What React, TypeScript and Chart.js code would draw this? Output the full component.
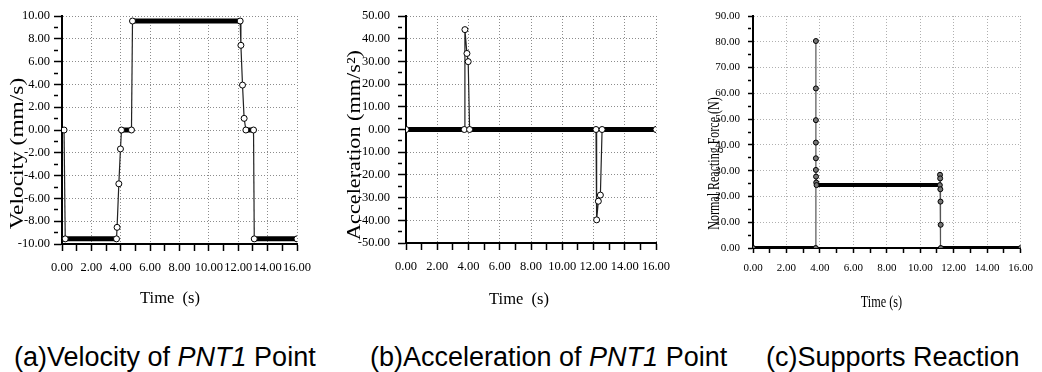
import React, { useEffect, useRef } from "react";
import { Chart, registerables } from "chart.js";

Chart.register(...registerables);

// ---------- data ----------
// (a) Velocity of PNT1 point
const velocityTime = [0, 0.14, 0.22, 3.71, 3.75, 3.87, 3.98, 4.05, 4.73, 4.8, 12.13, 12.18, 12.29, 12.4, 12.52, 13.04, 13.09, 16.0];
const velocityValue = [0, 0, -9.55, -9.55, -8.54, -4.72, -1.66, 0, 0, 9.56, 9.56, 7.43, 3.94, 1.02, 0, 0, -9.55, -9.55];

// (b) Acceleration of PNT1 point
const accelerationTime = [0, 3.73, 3.77, 3.9, 3.98, 4.07, 12.16, 12.2, 12.31, 12.44, 12.55, 16.0];
const accelerationValue = [0, 0, 44.0, 33.5, 29.9, 0, 0, -39.8, -31.6, -28.9, 0, 0];

// (c) Supports reaction
const forceTime = [0, 3.75, 3.76, 3.76, 3.76, 3.76, 3.76, 3.76, 3.77, 3.78, 3.8, 11.17, 11.18, 11.19, 11.2, 11.21, 11.22, 11.23, 16.0];
const forceValue = [0, 0, 80.3, 61.9, 49.6, 40.9, 34.8, 30.3, 27.7, 25.4, 24.4, 24.4, 28.4, 27.0, 22.8, 18.0, 9.0, 0, 0];

// axis ranges / tick steps
const timeRange = [0, 16];
const timeMinorStep = 1;
const timeMajorStep = 2;
const velocityRange = [-10, 10];
const velocitySteps = [1, 2];
const accelerationRange = [-50, 50];
const accelerationSteps = [5, 10];
const forceRange = [0, 90];
const forceSteps = [5, 10];

const axisTitles = {
  velocity: "Velocity (mm/s)",
  acceleration: "Acceleration (mm/s²)",
  force: "Normal Reacting Force (N)",
  timeWide: "Time  (s)",
  time: "Time (s)",
};

const captions = ["(a)Velocity of ", "(b)Acceleration of ", "(c)Supports Reaction"];

// ---------- styling ----------
const SERIF = "'Liberation Serif', 'Times New Roman', serif";

function isMult(v: number, m: number) {
  return Math.abs(v / m - Math.round(v / m)) < 1e-6;
}

type TitleSpec = { text: string; x: number; y: number; size: number; stretch: number; vertical: boolean };

type Panel = {
  left: number;
  width: number;
  height: number;
  padding: { top: number; right: number; bottom: number; left: number };
  times: number[];
  values: number[];
  yRange: number[];
  ySteps: number[];
  yAxisWidth: number;
  yTickLen: number;
  yMinorLen: number;
  yTickPad: number;
  xAxisHeight: number;
  xTickLen: number;
  xTickPad: number;
  tickFont: number;
  gridColor: string;
  lineColor: string;
  lineWidth: number;
  bandWidth: number;
  pointRadius: number;
  pointFill: string;
  titles: TitleSpec[];
};

function buildConfig(p: Panel): any {
  const data = p.times.map((t, i) => ({ x: t, y: p.values[i] }));
  const flat = (c: any) => c.p0.parsed.y === c.p1.parsed.y;

  const titlePlugin = {
    id: "panelTitles",
    afterDraw(chart: any) {
      const ctx = chart.ctx as CanvasRenderingContext2D;
      for (const t of p.titles) {
        ctx.save();
        ctx.translate(t.x, t.y);
        if (t.vertical) ctx.rotate(-Math.PI / 2);
        ctx.scale(t.stretch, 1);
        ctx.font = `${t.size}px ${SERIF}`;
        ctx.textAlign = "center";
        ctx.textBaseline = "middle";
        ctx.fillStyle = "#000";
        ctx.fillText(t.text, 0, 0);
        ctx.restore();
      }
    },
  };

  return {
    type: "line",
    data: {
      datasets: [
        {
          data,
          borderColor: p.lineColor,
          borderWidth: p.lineWidth,
          pointRadius: p.pointRadius,
          pointHoverRadius: p.pointRadius,
          pointBackgroundColor: p.pointFill,
          pointBorderColor: "#000",
          pointBorderWidth: 1,
          tension: 0,
          fill: false,
          segment: {
            borderWidth: (c: any) => (flat(c) ? p.bandWidth : p.lineWidth),
            borderColor: (c: any) => (flat(c) ? "#000" : p.lineColor),
          },
        },
      ],
    },
    plugins: [titlePlugin],
    options: {
      animation: false,
      responsive: false,
      maintainAspectRatio: false,
      layout: { padding: p.padding },
      plugins: { legend: { display: false }, tooltip: { enabled: false } },
      scales: {
        x: {
          type: "linear",
          min: timeRange[0],
          max: timeRange[1],
          afterFit: (s: any) => {
            s.height = p.xAxisHeight;
          },
          ticks: {
            stepSize: timeMinorStep,
            autoSkip: false,
            maxRotation: 0,
            padding: p.xTickPad,
            color: "#000",
            font: { family: SERIF, size: p.tickFont },
            callback: (v: any) => (isMult(Number(v), timeMajorStep) ? Number(v).toFixed(2) : ""),
          },
          grid: {
            color: (c: any) => (c.tick && isMult(c.tick.value, timeMajorStep) ? p.gridColor : "rgba(0,0,0,0)"),
            lineWidth: 1,
            tickColor: "#000",
            tickLength: p.xTickLen,
            tickWidth: 1.5,
          },
          border: { display: true, color: "#000", width: 2, dash: [1, 2] },
          title: { display: false },
        },
        y: {
          type: "linear",
          min: p.yRange[0],
          max: p.yRange[1],
          afterFit: (s: any) => {
            s.width = p.yAxisWidth;
          },
          ticks: {
            stepSize: p.ySteps[0],
            autoSkip: false,
            padding: p.yTickPad,
            color: "#000",
            font: { family: SERIF, size: p.tickFont },
            callback: (v: any) => (isMult(Number(v), p.ySteps[1]) ? Number(v).toFixed(2) : ""),
          },
          grid: {
            color: (c: any) => (c.tick && isMult(c.tick.value, p.ySteps[1]) ? p.gridColor : "rgba(0,0,0,0)"),
            lineWidth: 1,
            tickColor: "#000",
            tickLength: p.yTickLen,
            tickWidth: 1.5,
            tickBorderDash: (c: any) => (c.tick && !isMult(c.tick.value, p.ySteps[1]) ? [p.yMinorLen, 60] : []),
          },
          border: { display: true, color: "#000", width: 2, dash: [1, 2] },
          title: { display: false },
        },
      },
    },
  };
}

const panels: Panel[] = [
  {
    left: 0, width: 345, height: 320,
    padding: { top: 16, right: 48, bottom: 10, left: 0 },
    times: velocityTime, values: velocityValue,
    yRange: velocityRange, ySteps: velocitySteps,
    yAxisWidth: 62, yTickLen: 8, yMinorLen: 4, yTickPad: 4,
    xAxisHeight: 66, xTickLen: 7, xTickPad: 9,
    tickFont: 12.5, gridColor: "#8c8c8c", lineColor: "#222", lineWidth: 1.2, bandWidth: 5,
    pointRadius: 3, pointFill: "#fff",
    titles: [
      { text: axisTitles.velocity, x: 17.5, y: 153.5, size: 19.5, stretch: 1.2, vertical: true },
      { text: axisTitles.timeWide, x: 170, y: 299, size: 16.5, stretch: 1, vertical: false },
    ],
  },
  {
    left: 342, width: 348, height: 320,
    padding: { top: 16, right: 34, bottom: 11, left: 0 },
    times: accelerationTime, values: accelerationValue,
    yRange: accelerationRange, ySteps: accelerationSteps,
    yAxisWidth: 64, yTickLen: 8, yMinorLen: 4, yTickPad: 8,
    xAxisHeight: 66, xTickLen: 7, xTickPad: 9,
    tickFont: 12.5, gridColor: "#8c8c8c", lineColor: "#222", lineWidth: 1.2, bandWidth: 5,
    pointRadius: 3, pointFill: "#fff",
    titles: [
      { text: axisTitles.acceleration, x: 13, y: 145, size: 19.5, stretch: 1.14, vertical: true },
      { text: axisTitles.timeWide, x: 177, y: 300, size: 16.5, stretch: 1, vertical: false },
    ],
  },
  {
    left: 690, width: 352, height: 320,
    padding: { top: 16, right: 12, bottom: 8, left: 0 },
    times: forceTime, values: forceValue,
    yRange: forceRange, ySteps: forceSteps,
    yAxisWidth: 63, yTickLen: 5, yMinorLen: 3, yTickPad: 8,
    xAxisHeight: 64, xTickLen: 5, xTickPad: 9,
    tickFont: 11, gridColor: "#b0b0b0", lineColor: "#555", lineWidth: 1.2, bandWidth: 4,
    pointRadius: 2.5, pointFill: "#777",
    titles: [
      { text: axisTitles.force, x: 24.5, y: 163.5, size: 16, stretch: 0.75, vertical: true },
      { text: axisTitles.time, x: 191.5, y: 303, size: 17, stretch: 0.72, vertical: false },
    ],
  },
];

function ChartPanel({ p }: { p: Panel }) {
  const ref = useRef<HTMLCanvasElement | null>(null);
  useEffect(() => {
    if (!ref.current) return;
    const chart = new Chart(ref.current, buildConfig(p));
    return () => chart.destroy();
  }, [p]);
  return (
    <canvas
      ref={ref}
      width={p.width}
      height={p.height}
      style={{ position: "absolute", left: p.left, top: 0, width: p.width, height: p.height }}
    />
  );
}

const captionStyle: React.CSSProperties = {
  position: "absolute",
  top: 342,
  fontFamily: "'Liberation Sans', Arial, sans-serif",
  fontSize: 27,
  lineHeight: "30px",
  color: "#000",
  whiteSpace: "nowrap",
};

export default function App() {
  return (
    <div style={{ position: "absolute", left: 0, top: 0, width: 1042, height: 372, background: "#fff", overflow: "hidden" }}>
      {panels.map((p, i) => (
        <ChartPanel key={i} p={p} />
      ))}
      <div style={{ ...captionStyle, left: 14 }}>
        {captions[0]}
        <i>PNT1</i> Point
      </div>
      <div style={{ ...captionStyle, left: 370 }}>
        {captions[1]}
        <i>PNT1</i> Point
      </div>
      <div style={{ ...captionStyle, left: 766 }}>{captions[2]}</div>
    </div>
  );
}
